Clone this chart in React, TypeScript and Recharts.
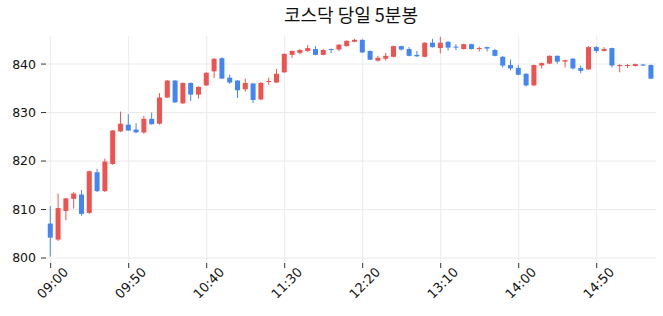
import React from "react";
import { ComposedChart, Bar, XAxis, YAxis, CartesianGrid } from "recharts";

// 5분봉 시각 (09:00 ~ 15:25)
const times = [
  "09:00", "09:05", "09:10", "09:15", "09:20", "09:25", "09:30", "09:35", "09:40", "09:45",
  "09:50", "09:55", "10:00", "10:05", "10:10", "10:15", "10:20", "10:25", "10:30", "10:35",
  "10:40", "10:45", "10:50", "10:55", "11:00", "11:05", "11:10", "11:15", "11:20", "11:25",
  "11:30", "11:35", "11:40", "11:45", "11:50", "11:55", "12:00", "12:05", "12:10", "12:15",
  "12:20", "12:25", "12:30", "12:35", "12:40", "12:45", "12:50", "12:55", "13:00", "13:05",
  "13:10", "13:15", "13:20", "13:25", "13:30", "13:35", "13:40", "13:45", "13:50", "13:55",
  "14:00", "14:05", "14:10", "14:15", "14:20", "14:25", "14:30", "14:35", "14:40", "14:45",
  "14:50", "14:55", "15:00", "15:05", "15:10", "15:15", "15:20", "15:25",
];

const opens = [
  807.1, 803.8, 809.7, 812.2, 813.1, 809.3, 817.7, 813.8, 819.4, 826.1,
  827.5, 826.5, 825.9, 828.7, 827.7, 833.1, 836.6, 831.9, 836.1, 833.7,
  835.6, 838.5, 841.2, 837.2, 836.6, 834.8, 836.0, 832.7, 836.3, 836.2,
  838.3, 841.9, 842.3, 842.7, 843.1, 841.9, 843.1, 843.0, 843.7, 844.6,
  845.0, 842.7, 840.7, 841.1, 841.5, 843.7, 843.1, 841.9, 841.5, 844.4,
  843.3, 844.6, 843.6, 843.1, 844.1, 843.1, 843.5, 842.9, 841.5, 839.8,
  839.2, 838.0, 835.6, 839.7, 840.1, 841.7, 840.5, 841.1, 839.2, 838.9,
  843.5, 842.7, 843.3, 839.6, 839.6, 839.6, 839.9, 839.8,
];
const highs = [
  810.7, 813.3, 812.4, 813.6, 814.0, 818.0, 818.4, 820.5, 826.4, 830.2,
  829.7, 827.8, 829.3, 830.0, 834.0, 836.7, 836.7, 836.2, 836.2, 835.4,
  838.3, 841.2, 841.4, 837.8, 836.7, 837.0, 836.1, 836.3, 837.2, 839.0,
  842.2, 842.8, 843.1, 843.9, 843.7, 843.1, 843.2, 844.1, 844.9, 845.2,
  845.1, 842.8, 841.7, 842.3, 843.8, 843.8, 843.5, 842.7, 844.5, 845.2,
  845.6, 844.7, 844.1, 844.2, 844.2, 843.6, 843.6, 843.1, 841.7, 840.9,
  839.8, 838.1, 839.9, 840.3, 841.8, 841.8, 840.9, 841.3, 839.7, 843.7,
  843.7, 843.5, 843.4, 840.0, 840.0, 840.1, 840.0, 839.9,
];
const lows = [
  800.3, 803.5, 807.8, 810.2, 808.7, 809.1, 813.6, 813.6, 819.2, 826.0,
  826.2, 825.8, 825.6, 827.5, 827.5, 833.0, 832.0, 831.8, 832.4, 832.9,
  835.5, 837.1, 836.9, 835.9, 833.0, 834.3, 832.0, 832.6, 835.7, 836.1,
  838.2, 841.3, 842.0, 842.5, 841.8, 841.8, 842.3, 842.7, 843.6, 844.5,
  842.3, 840.8, 840.5, 840.7, 841.4, 842.8, 841.6, 841.5, 841.4, 843.4,
  842.2, 842.8, 842.9, 843.0, 843.0, 842.6, 842.6, 841.6, 839.3, 838.7,
  837.7, 835.4, 835.5, 839.1, 840.0, 840.1, 839.3, 838.9, 838.1, 838.8,
  842.3, 842.6, 839.3, 838.3, 839.2, 839.5, 839.6, 836.9,
];
const closes = [
  804.2, 810.3, 812.3, 813.3, 809.1, 817.9, 813.8, 819.9, 826.3, 827.7,
  826.3, 825.9, 828.7, 827.6, 833.1, 836.6, 832.1, 836.1, 833.7, 835.3,
  838.2, 841.1, 837.0, 836.2, 834.6, 836.1, 832.6, 836.1, 836.5, 838.0,
  842.1, 842.7, 842.9, 843.3, 841.9, 842.9, 842.9, 844.0, 844.8, 845.0,
  842.4, 840.9, 841.3, 841.7, 843.7, 843.0, 841.7, 841.6, 844.4, 843.5,
  844.4, 843.4, 843.5, 844.1, 843.1, 843.3, 843.2, 841.7, 839.7, 839.1,
  837.8, 835.6, 839.8, 840.2, 841.7, 840.5, 840.8, 839.1, 838.6, 843.5,
  842.7, 843.1, 839.7, 839.8, 839.8, 840.0, 839.7, 837.0,
];

const xTicks = [0, 10, 20, 30, 40, 50, 60, 70];
const yTicks = [800, 810, 820, 830, 840];

const UP = "#EF5350";
const DOWN = "#4285F4";

const data = times.map((time, i) => ({
  i,
  time,
  open: opens[i],
  high: highs[i],
  low: lows[i],
  close: closes[i],
}));

const Candle = (props: any) => {
  const { x, y, width, height, payload } = props;
  if (x == null || y == null) return null;
  const { open, close, high, low } = payload;
  const color = close >= open ? UP : DOWN;
  const top = Math.min(y, y + height);
  const h = Math.abs(height);
  const ppu = h / (high - low);
  const yo = top + (high - open) * ppu;
  const yc = top + (high - close) * ppu;
  const bodyTop = Math.min(yo, yc);
  const bodyH = Math.max(Math.abs(yo - yc), 1);
  const cx = x + width / 2;
  return (
    <g>
      <line x1={cx} x2={cx} y1={top} y2={top + h} stroke={color} strokeWidth={1} />
      <rect x={x} y={bodyTop} width={width} height={bodyH} fill={color} />
    </g>
  );
};

const XTick = (props: any) => {
  const { x, y, payload } = props;
  return (
    <text
      transform={`translate(${x + 2}, ${y + 13}) rotate(-45)`}
      textAnchor="middle"
      dominantBaseline="central"
      fontSize={13}
      fontFamily="DejaVu Sans"
      fill="#111"
    >
      {times[payload.value]}
    </text>
  );
};

export default function App() {
  return (
    <div style={{ position: "absolute", left: 0, top: 0, width: 663, height: 316, background: "#fff" }}>
      <div
        style={{
          position: "absolute",
          left: 46,
          width: 610,
          top: 2,
          textAlign: "center",
          fontFamily: "'Noto Sans CJK KR', sans-serif",
          fontSize: 18,
          color: "#111",
          lineHeight: "24px",
        }}
      >
        코스닥 당일 5분봉
      </div>
      <ComposedChart width={663} height={316} data={data} margin={{ top: 36, right: 7, left: 0, bottom: 0 }}>
        <CartesianGrid stroke="#ebebeb" syncWithTicks />
        <XAxis
          dataKey="i"
          type="number"
          domain={[-0.6, 77.6]}
          ticks={xTicks}
          allowDataOverflow
          axisLine={false}
          tickSize={5}
          tickLine={{ stroke: "#333" }}
          height={53}
          interval={0}
          tick={XTick}
        />
        <YAxis
          type="number"
          domain={[798.97, 845.79]}
          ticks={yTicks}
          allowDataOverflow
          axisLine={false}
          tickSize={5}
          tickMargin={5}
          tickLine={{ stroke: "#333" }}
          width={46}
          tick={{ fontSize: 12.5, fontFamily: "DejaVu Sans", fill: "#111" }}
        />
        <Bar dataKey={(d: any) => [d.low, d.high]} barSize={5} shape={Candle} isAnimationActive={false} />
      </ComposedChart>
    </div>
  );
}
